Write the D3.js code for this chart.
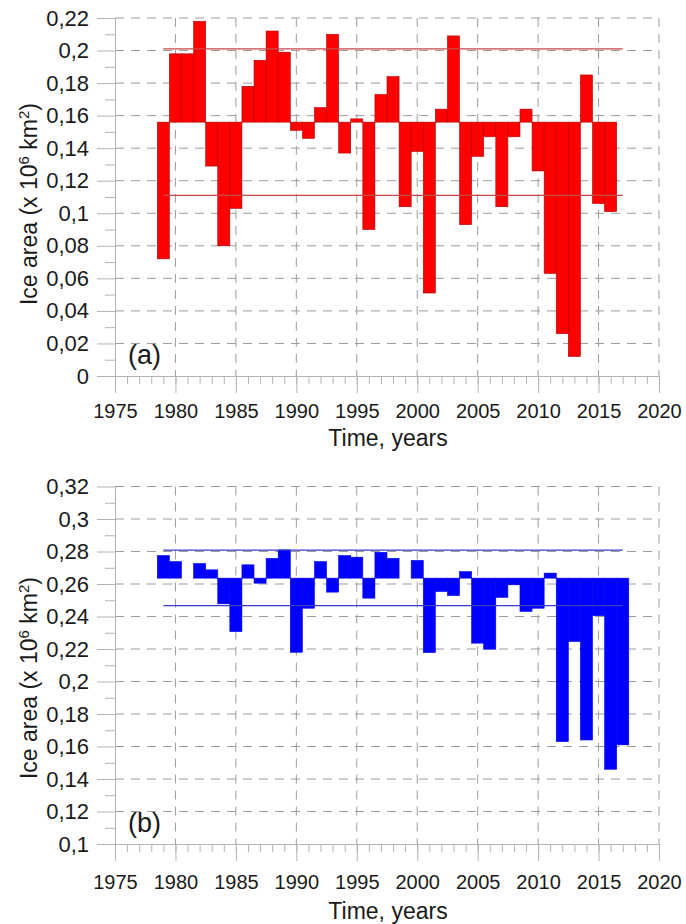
<!DOCTYPE html>
<html>
<head>
<meta charset="utf-8">
<script src="https://cdn.jsdelivr.net/npm/d3@7"></script>
<style>
  body { margin: 0; background: #fff; }
  svg { display: block; font-family: "Liberation Sans", Arial, sans-serif; }
</style>
</head>
<body>
<svg id="chart"></svg>
<script>
/***** Data *****/
// panel (a)
var yearsA = [1979, 1980, 1981, 1982, 1983, 1984, 1985, 1986, 1987, 1988,
              1989, 1990, 1991, 1992, 1993, 1994, 1995, 1996, 1997, 1998,
              1999, 2000, 2001, 2002, 2003, 2004, 2005, 2006, 2007, 2008,
              2009, 2010, 2011, 2012, 2013, 2014, 2015, 2016];
var areaA = [0.072, 0.198, 0.198, 0.218, 0.129, 0.080, 0.103, 0.178, 0.194, 0.212,
             0.199, 0.151, 0.146, 0.165, 0.210, 0.137, 0.158, 0.090, 0.173, 0.184,
             0.104, 0.138, 0.051, 0.164, 0.209, 0.093, 0.135, 0.147, 0.104, 0.147,
             0.164, 0.126, 0.063, 0.026, 0.012, 0.185, 0.106, 0.101];
var levelsA = { base: 0.156, upper: 0.201, lower: 0.111 };
var yTicksA = [0, 0.02, 0.04, 0.06, 0.08, 0.1, 0.12, 0.14, 0.16, 0.18, 0.2, 0.22];

// panel (b)
var yearsB = [1979, 1980, 1981, 1982, 1983, 1984, 1985, 1986, 1987, 1988,
              1989, 1990, 1991, 1992, 1993, 1994, 1995, 1996, 1997, 1998,
              1999, 2000, 2001, 2002, 2003, 2004, 2005, 2006, 2007, 2008,
              2009, 2010, 2011, 2012, 2013, 2014, 2015, 2016, 2017];
var areaB = [0.2775, 0.2738, 0.2636, 0.2726, 0.2687, 0.2478, 0.2307, 0.2718, 0.2605, 0.2758,
             0.2810, 0.2180, 0.2451, 0.2738, 0.2550, 0.2775, 0.2765, 0.2513, 0.2795, 0.2758,
             0.2636, 0.2745, 0.2178, 0.2554, 0.2529, 0.2676, 0.2236, 0.2199, 0.2518, 0.2595,
             0.2431, 0.2451, 0.2667, 0.1630, 0.2246, 0.1640, 0.2405, 0.1460, 0.1610];
var levelsB = { base: 0.2636, upper: 0.2808, lower: 0.2467 };
var yTicksB = [0.1, 0.12, 0.14, 0.16, 0.18, 0.2, 0.22, 0.24, 0.26, 0.28, 0.3, 0.32];

var xTicks = [1975, 1980, 1985, 1990, 1995, 2000, 2005, 2010, 2015, 2020];
var levelSpan = [1979, 2017];

(function (d3) {

    /***** Configuration *****/
    var width = 686, height = 924;
    var plotLeft = 115, plotRight = 659;
    var axisColor = "#b4b4b4";
    var gridColor = "#9c9c9c";

    var svg = d3.select("#chart").attr("width", width).attr("height", height);

    var locale = d3.formatLocale({ decimal: ",", thousands: " ", grouping: [3], currency: ["", ""] });
    var fmt = locale.format("~g");

    var x = d3.scaleLinear().domain([1975, 2020]).range([plotLeft, plotRight]);
    var minorYears = d3.range(1975, 2021);

    /***** Panel drawing *****/
    function drawPanel(p) {
        var y = d3.scaleLinear().domain([p.ticks[0], p.ticks[p.ticks.length - 1]])
                  .range([p.bottom, p.top]);
        var g = svg.append("g");
        var step = p.ticks[1] - p.ticks[0];
        var minorY = p.ticks.slice(0, -1).map(function (d) { return d + step / 2; });

        // dashed grid
        g.append("g").selectAll("line").data(xTicks.slice(1)).join("line")
            .attr("x1", function (d) { return x(d); })
            .attr("x2", function (d) { return x(d); })
            .attr("y1", p.top).attr("y2", p.bottom)
            .attr("stroke", gridColor).attr("stroke-width", 1)
            .attr("stroke-dasharray", "9,7");
        g.append("g").selectAll("line").data(p.ticks.slice(1)).join("line")
            .attr("x1", plotLeft).attr("x2", plotRight)
            .attr("y1", function (d) { return y(d); })
            .attr("y2", function (d) { return y(d); })
            .attr("stroke", gridColor).attr("stroke-width", 1)
            .attr("stroke-dasharray", "9,7");

        // bars from the base level
        g.append("g").selectAll("rect").data(p.values).join("rect")
            .attr("x", function (d, i) { return x(p.years[i] - 0.5); })
            .attr("width", function (d, i) { return x(p.years[i] + 0.5) - x(p.years[i] - 0.5); })
            .attr("y", function (d) { return y(Math.max(d, p.levels.base)); })
            .attr("height", function (d) { return Math.abs(y(d) - y(p.levels.base)); })
            .attr("fill", p.fill)
            .attr("stroke", p.edge)
            .attr("stroke-width", 0.6);

        // upper / lower reference lines
        g.append("g").selectAll("line").data([p.levels.upper, p.levels.lower]).join("line")
            .attr("x1", x(levelSpan[0])).attr("x2", x(levelSpan[1]))
            .attr("y1", function (d) { return y(d); })
            .attr("y2", function (d) { return y(d); })
            .attr("stroke", p.lineColor).attr("stroke-width", 1.3);

        // axes
        g.append("g").attr("transform", "translate(0," + p.bottom + ")")
            .call(d3.axisBottom(x).tickValues(xTicks).tickSize(17).tickSizeOuter(0)
                    .tickPadding(11 + p.labelShift).tickFormat(d3.format("d")));
        g.append("g").attr("transform", "translate(0," + p.bottom + ")")
            .call(d3.axisBottom(x).tickValues(minorYears).tickSize(8).tickSizeOuter(0).tickFormat(""));
        g.append("g").attr("transform", "translate(" + plotLeft + ",0)")
            .attr("class", "y-axis")
            .call(d3.axisLeft(y).tickValues(p.ticks).tickSize(18).tickSizeOuter(0)
                    .tickPadding(8).tickFormat(fmt));
        g.append("g").attr("transform", "translate(" + plotLeft + ",0)")
            .call(d3.axisLeft(y).tickValues(minorY).tickSize(10).tickSizeOuter(0).tickFormat(""));

        g.selectAll(".domain").attr("stroke", axisColor);
        g.selectAll(".tick line").attr("stroke", axisColor);
        g.selectAll(".tick text").attr("font-size", 20).attr("fill", "#1a1a1a")
            .attr("font-family", "Liberation Sans, Arial, sans-serif");
        g.selectAll(".y-axis .tick text").attr("font-size", 22);

        // titles
        g.append("text")
            .attr("x", (plotLeft + plotRight) / 2 + 1)
            .attr("y", p.bottom + 70 + p.titleShift)
            .attr("text-anchor", "middle")
            .attr("font-size", 23).attr("fill", "#1a1a1a")
            .text("Time, years");

        var yt = g.append("text")
            .attr("transform", "translate(37," + p.titleY + ") rotate(-90)")
            .attr("text-anchor", "middle")
            .attr("font-size", 23).attr("fill", "#1a1a1a");
        yt.append("tspan").text("Ice area (x 10");
        yt.append("tspan").attr("font-size", 15).attr("dy", -8).text("6");
        yt.append("tspan").attr("dy", 8).text(" km");
        yt.append("tspan").attr("font-size", 15).attr("dy", -8).text("2");
        yt.append("tspan").attr("dy", 8).text(")");

        g.append("text")
            .attr("x", 128).attr("y", p.bottom - 12)
            .attr("font-size", 27).attr("fill", "#1a1a1a")
            .text(p.tag);
    }

    drawPanel({ years: yearsA, values: areaA, levels: levelsA, ticks: yTicksA,
                top: 18, bottom: 376, fill: "#ff0000", edge: "#b00000",
                lineColor: "#c84848", tag: "(a)", titleY: 204,
                labelShift: 0, titleShift: 0 });
    drawPanel({ years: yearsB, values: areaB, levels: levelsB, ticks: yTicksB,
                top: 486.5, bottom: 844, fill: "#0000ff", edge: "#0000ee",
                lineColor: "#3a3ad0", tag: "(b)", titleY: 678,
                labelShift: 3, titleShift: 5 });

})(d3);
</script>
</body>
</html>
